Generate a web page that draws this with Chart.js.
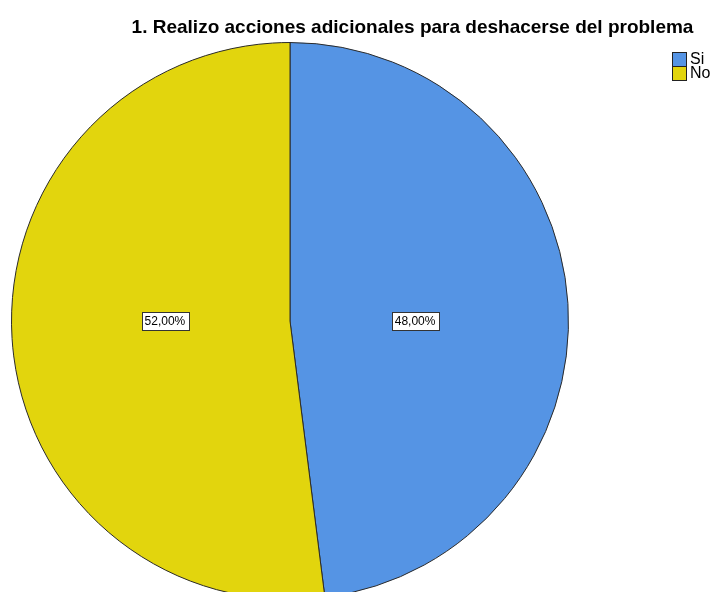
<!DOCTYPE html>
<html>
<head>
<meta charset="utf-8">
<script src="https://cdn.jsdelivr.net/npm/chart.js@4/dist/chart.umd.min.js"></script>
<style>
    html, body { margin: 0; padding: 0; background: #fff; overflow: hidden; }
    #wrap { position: absolute; left: 0; top: 0; width: 711px; height: 600px; }
</style>
</head>
<body>
<div id="wrap"><canvas id="pieChart"></canvas></div>
<script>
// Chart data
const titleText = '1. Realizo acciones adicionales para deshacerse del problema';
const categories = ['Si', 'No'];
const percents = [48.00, 52.00];
const sliceColors = ['#5594e4', '#e2d50d'];

// format like SPSS: 48,00%
function fmtPct(v) {
    return v.toFixed(2).replace('.', ',') + '%';
}

// title, legend and boxed labels drawn on top of the pie
const overlayPlugin = {
    id: 'overlay',
    afterDraw: function(chart) {
        const ctx = chart.ctx;
        ctx.save();

        // title
        ctx.fillStyle = '#000';
        ctx.font = 'bold 19px "Liberation Sans", Arial, sans-serif';
        ctx.textAlign = 'center';
        ctx.textBaseline = 'alphabetic';
        ctx.fillText(titleText, 412.5, 33);

        // legend
        ctx.font = '16px "Liberation Sans", Arial, sans-serif';
        ctx.textAlign = 'left';
        ctx.textBaseline = 'middle';
        categories.forEach(function(cat, i) {
            const y = 52 + i * 14;
            ctx.fillStyle = sliceColors[i];
            ctx.fillRect(672.5, y + 0.5, 14, 14);
            ctx.strokeStyle = '#222';
            ctx.lineWidth = 1;
            ctx.strokeRect(672.5, y + 0.5, 14, 14);
            ctx.fillStyle = '#000';
            ctx.fillText(cat, 690, y + 8);
        });

        // value labels
        const meta = chart.getDatasetMeta(0);
        ctx.font = '12px "Liberation Sans", Arial, sans-serif';
        ctx.textAlign = 'center';
        meta.data.forEach(function(arc, i) {
            const mid = (arc.startAngle + arc.endAngle) / 2;
            const r = arc.outerRadius * 0.45;
            const x = arc.x + Math.cos(mid) * r;
            const y = arc.y;
            const txt = fmtPct(percents[i]);
            const w = ctx.measureText(txt).width + 6;
            const h = 18;
            ctx.fillStyle = '#fff';
            ctx.fillRect(Math.round(x - w / 2) + 0.5, Math.round(y - h / 2) + 0.5, Math.round(w), h);
            ctx.strokeStyle = '#333';
            ctx.strokeRect(Math.round(x - w / 2) + 0.5, Math.round(y - h / 2) + 0.5, Math.round(w), h);
            ctx.fillStyle = '#000';
            ctx.fillText(txt, x, y + 1);
        });

        ctx.restore();
    }
};

const ctx = document.getElementById('pieChart').getContext('2d');
const chart = new Chart(ctx, {
    type: 'pie',
    data: {
        labels: categories,
        datasets: [{
            data: percents,
            backgroundColor: sliceColors,
            borderColor: '#2a2a2a',
            borderWidth: 1
        }]
    },
    options: {
        responsive: true,
        maintainAspectRatio: false,
        animation: false,
        layout: {
            padding: { left: 11, right: 142, top: 42, bottom: 0 }
        },
        plugins: {
            legend: { display: false },
            title: { display: false },
            tooltip: { enabled: false }
        }
    },
    plugins: [overlayPlugin]
});
</script>
</body>
</html>
